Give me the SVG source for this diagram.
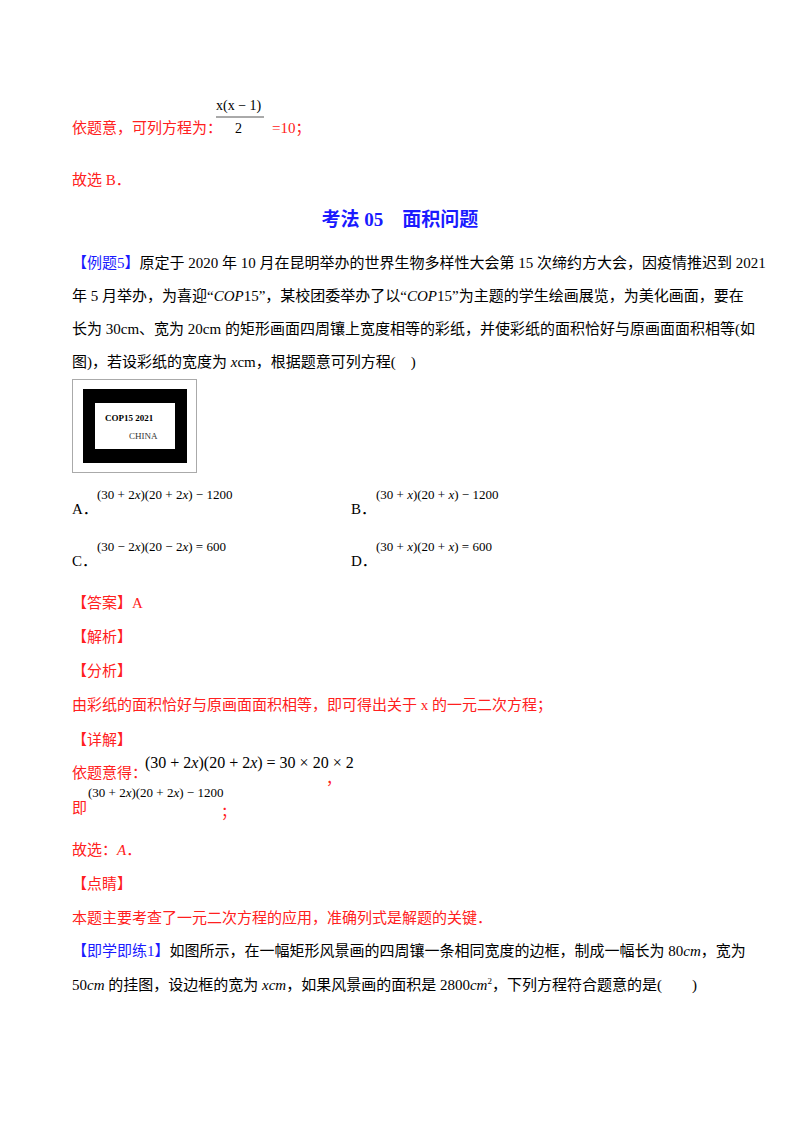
<svg xmlns="http://www.w3.org/2000/svg" width="800" height="1132" viewBox="0 0 800 1132">
<style>
text{font-family:"Liberation Serif","Noto Sans CJK SC",serif;font-size:15px;fill:#000}
.r{fill:#ff2020}
.b{fill:#1a1aff}
.m{font-style:italic}
.f{font-size:13px}
</style>
<rect width="800" height="1132" fill="#fff"/>
<text x="72" y="133" class="r">依题意，可列方程为：</text>
<text x="216" y="110" style="font-size:14px">x(x − 1)</text>
<line x1="216" y1="117" x2="264" y2="117" stroke="#555" stroke-width="1"/>
<text x="235" y="133" style="font-size:14px">2</text>
<text x="272" y="133" class="r">=10；</text>
<text x="72" y="185" class="r">故选 B．</text>
<text x="400" y="226" text-anchor="middle" class="b" style="font-size:19px;font-weight:bold">考法 05　面积问题</text>
<text x="72" y="268"><tspan class="b">【例题5】</tspan>原定于 2020 年 10 月在昆明举办的世界生物多样性大会第 15 次缔约方大会，因疫情推迟到 2021</text>
<text x="72" y="301">年 5 月举办，为喜迎“<tspan class="m">COP</tspan>15”，某校团委举办了以“<tspan class="m">COP</tspan>15”为主题的学生绘画展览，为美化画面，要在</text>
<text x="72" y="334">长为 30cm、宽为 20cm 的矩形画面四周镶上宽度相等的彩纸，并使彩纸的面积恰好与原画面面积相等(如</text>
<text x="72" y="367">图)，若设彩纸的宽度为 <tspan class="m">x</tspan>cm，根据题意可列方程(　)</text>
<g id="picture">
<rect x="72.5" y="379.5" width="124" height="93" fill="#fff" stroke="#aaa"/>
<rect x="83" y="389" width="104" height="74" fill="#000"/>
<rect x="95" y="403" width="80" height="46" fill="#fff"/>
<text x="105" y="421" style="font-size:9px;font-weight:bold">COP15  2021</text>
<text x="129" y="439" style="font-size:9px;fill:#333">CHINA</text>
</g>
<text x="72" y="514">A．</text>
<text x="97" y="499" class="f">(30 + 2<tspan class="m">x</tspan>)(20 + 2<tspan class="m">x</tspan>) − 1200</text>
<text x="351" y="514">B．</text>
<text x="376" y="499" class="f">(30 + <tspan class="m">x</tspan>)(20 + <tspan class="m">x</tspan>) − 1200</text>
<text x="72" y="566">C．</text>
<text x="97" y="551" class="f">(30 − 2<tspan class="m">x</tspan>)(20 − 2<tspan class="m">x</tspan>) = 600</text>
<text x="351" y="566">D．</text>
<text x="376" y="551" class="f">(30 + <tspan class="m">x</tspan>)(20 + <tspan class="m">x</tspan>) = 600</text>
<text x="72" y="608" class="r">【答案】A</text>
<text x="72" y="642" class="r">【解析】</text>
<text x="72" y="676" class="r">【分析】</text>
<text x="72" y="710" class="r">由彩纸的面积恰好与原画面面积相等，即可得出关于 x 的一元二次方程；</text>
<text x="72" y="745" class="r">【详解】</text>
<text x="72" y="778" class="r">依题意得：</text>
<text x="145" y="768" style="font-size:16px">(30 + 2<tspan class="m">x</tspan>)(20 + 2<tspan class="m">x</tspan>) = 30 × 20 × 2</text>
<text x="326" y="784" class="r">，</text>
<text x="72" y="813" class="r">即</text>
<text x="88" y="797" class="f">(30 + 2<tspan class="m">x</tspan>)(20 + 2<tspan class="m">x</tspan>) − 1200</text>
<text x="221" y="817" class="r">；</text>
<text x="72" y="855" class="r">故选：<tspan class="m">A</tspan>．</text>
<text x="72" y="889" class="r">【点睛】</text>
<text x="72" y="923" class="r">本题主要考查了一元二次方程的应用，准确列式是解题的关键．</text>
<text x="72" y="956"><tspan class="b">【即学即练1】</tspan>如图所示，在一幅矩形风景画的四周镶一条相同宽度的边框，制成一幅长为 80<tspan class="m">cm</tspan>，宽为</text>
<text x="72" y="990">50<tspan class="m">cm</tspan> 的挂图，设边框的宽为 <tspan class="m">xcm</tspan>，如果风景画的面积是 2800<tspan class="m">cm</tspan><tspan dy="-6" style="font-size:9px">2</tspan><tspan dy="6">，下列方程符合题意的是(　　)</tspan></text>
</svg>
